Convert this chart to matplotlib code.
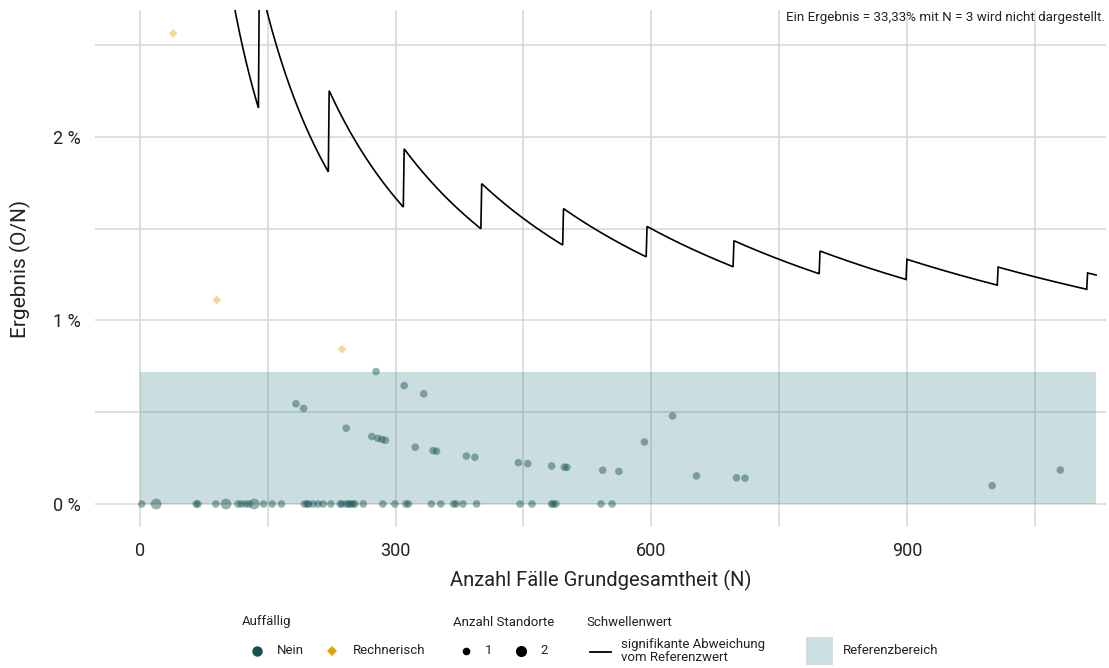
import matplotlib
matplotlib.use("Agg")
import matplotlib.pyplot as plt
from matplotlib.lines import Line2D
from matplotlib.patches import Rectangle
import numpy as np

# ---------------------------------------------------------------- data
# Standorte mit Ergebnis 0 (O = 0), Fallzahl N
null_n = [2, 66, 68, 89, 115, 119, 124, 128, 145, 155, 166, 193, 196, 198,
          203, 209, 215, 224, 235, 237, 242, 245, 247, 250, 252, 262, 285,
          299, 312, 315, 342, 353, 368, 371, 379, 395, 446, 460, 483, 485,
          488, 541, 554, 19, 101, 134]
null_anzahl = [1] * 43 + [2, 2, 2]

# Standorte mit Ergebnis > 0, nicht auffällig
nein_n = [277, 310, 333, 183, 192, 242, 272, 279, 284, 288, 323, 344, 348,
          383, 393, 444, 455, 483, 498, 501, 543, 562, 592, 625, 653, 700,
          710, 1000, 1080]
nein_o = [2, 2, 2, 1, 1, 1, 1, 1, 1, 1, 1, 1, 1,
          1, 1, 1, 1, 1, 1, 1, 1, 1, 2, 3, 1, 1,
          1, 1, 2]

# rechnerisch auffällige Standorte
rech_n = [39, 90, 237]
rech_o = [1, 1, 2]

# Schwellenwert: kritische Fallzahl O ab der jeweiligen Grundgesamtheit N
schwelle_ab_n = [100, 140, 222, 310, 401, 497, 595, 697, 798, 900, 1007, 1112]
schwelle_o = [3, 4, 5, 6, 7, 8, 9, 10, 11, 12, 13, 14]
n_max = 1122

referenz_oben = 0.72   # Referenzbereich bis 0,72 %

x_ticks = [0, 300, 600, 900]
y_ticks = [0, 1, 2]
y_ticklabels = ["0 %", "1 %", "2 %"]

# ---------------------------------------------------------------- styles
W, H = 1109, 668
TEAL = "#17524f"
ORANGE = "#e69f00"
BAND = "#1a6f78"
BAND_SOLID = "#cbdfe1"
GRID = "#d6d6d6"
TXT = "#222222"
FONT = ["Roboto", "DejaVu Sans"]

plt.rcParams["font.family"] = FONT

fig = plt.figure(figsize=(W / 100, H / 100), dpi=100)
ax = fig.add_axes([95 / W, 1 - 527 / H, (1106 - 95) / W, (527 - 10) / H])

ax.set_xlim(-52.8, 1133.6)
ax.set_ylim(-0.1253, 2.692)

# grid
ax.set_xticks(x_ticks)
ax.set_xticks([150, 450, 750, 1050], minor=True)
ax.set_yticks(y_ticks)
ax.set_yticks([0.5, 1.5, 2.5], minor=True)
ax.set_yticklabels(y_ticklabels)
ax.grid(True, which="both", color=GRID, linewidth=1.1)
ax.set_axisbelow(True)
ax.tick_params(which="both", length=0)
ax.tick_params(axis="y", pad=10, labelsize=13, labelcolor=TXT)
ax.tick_params(axis="x", pad=11, labelsize=13, labelcolor=TXT)
for s in ax.spines.values():
    s.set_visible(False)

# Referenzbereich
ax.add_patch(Rectangle((0, 0), n_max, referenz_oben, facecolor=BAND,
                       alpha=0.226, edgecolor="none", zorder=2))

# Schwellenwert-Linie k/N
n_line = np.arange(schwelle_ab_n[0], n_max + 1)
idx = np.searchsorted(schwelle_ab_n, n_line, side="right") - 1
k_line = np.array(schwelle_o)[idx]
ax.plot(n_line, k_line / n_line * 100, color="black", linewidth=1.2,
        zorder=4, solid_joinstyle="miter")

# Punkte
size = {1: 30, 2: 60}
ax.scatter(null_n, [0] * len(null_n), s=[size[a] for a in null_anzahl],
           color=TEAL, alpha=0.45, edgecolors="none", zorder=5)
ax.scatter(nein_n, np.array(nein_o) / np.array(nein_n) * 100, s=size[1],
           color=TEAL, alpha=0.45, edgecolors="none", zorder=5)
ax.scatter(rech_n, np.array(rech_o) / np.array(rech_n) * 100, s=20,
           marker="D", color=ORANGE, alpha=0.4, edgecolors="none", zorder=5)

ax.set_xlabel("Anzahl Fälle Grundgesamtheit (N)", fontsize=14.5, color=TXT,
              labelpad=7)
ax.set_ylabel("Ergebnis (O/N)", fontsize=15, color=TXT, labelpad=16)

fig.text(1105 / W, 1 - 18 / H,
         "Ein Ergebnis = 33,33% mit N = 3 wird nicht dargestellt.",
         ha="right", va="center", fontsize=9.6, color=TXT)

# ---------------------------------------------------------------- legend
def fx(px):
    return px / W


def fy(py):
    return 1 - py / H


def ftext(px, py, s, **kw):
    fig.text(fx(px), fy(py), s, ha="left", va="center", fontsize=9.5,
             color=TXT, **kw)


def fmark(px, py, **kw):
    fig.add_artist(Line2D([fx(px)], [fy(py)], transform=fig.transFigure,
                          linestyle="none", **kw))


row_t, row_i = 622, 651
ftext(242, row_t, "Auffällig")
fmark(257, row_i, marker="o", color=TEAL, markersize=7.5, markeredgewidth=0)
ftext(277, row_i, "Nein")
fmark(332, row_i, marker="D", color=ORANGE, markersize=5.5, markeredgewidth=0)
ftext(353, row_i, "Rechnerisch")

ftext(453, row_t, "Anzahl Standorte")
fmark(466, row_i, marker="o", color="black", markersize=5.5, markeredgewidth=0)
ftext(485, row_i, "1")
fmark(521, row_i, marker="o", color="black", markersize=8, markeredgewidth=0)
ftext(540, row_i, "2")

ftext(586, row_t, "Schwellenwert")
fig.add_artist(Line2D([fx(590), fx(611)], [fy(row_i + 1), fy(row_i + 1)],
                      transform=fig.transFigure, color="black", linewidth=1.3))
ftext(621, row_i, "signifikante Abweichung\nvom Referenzwert",
      linespacing=0.95)

fig.add_artist(Rectangle((fx(806), fy(665)), (833 - 806) / W, (665 - 637) / H,
                         transform=fig.transFigure, facecolor=BAND_SOLID,
                         edgecolor="none"))
ftext(843, row_i, "Referenzbereich")

fig.savefig("out.png", dpi=100)
